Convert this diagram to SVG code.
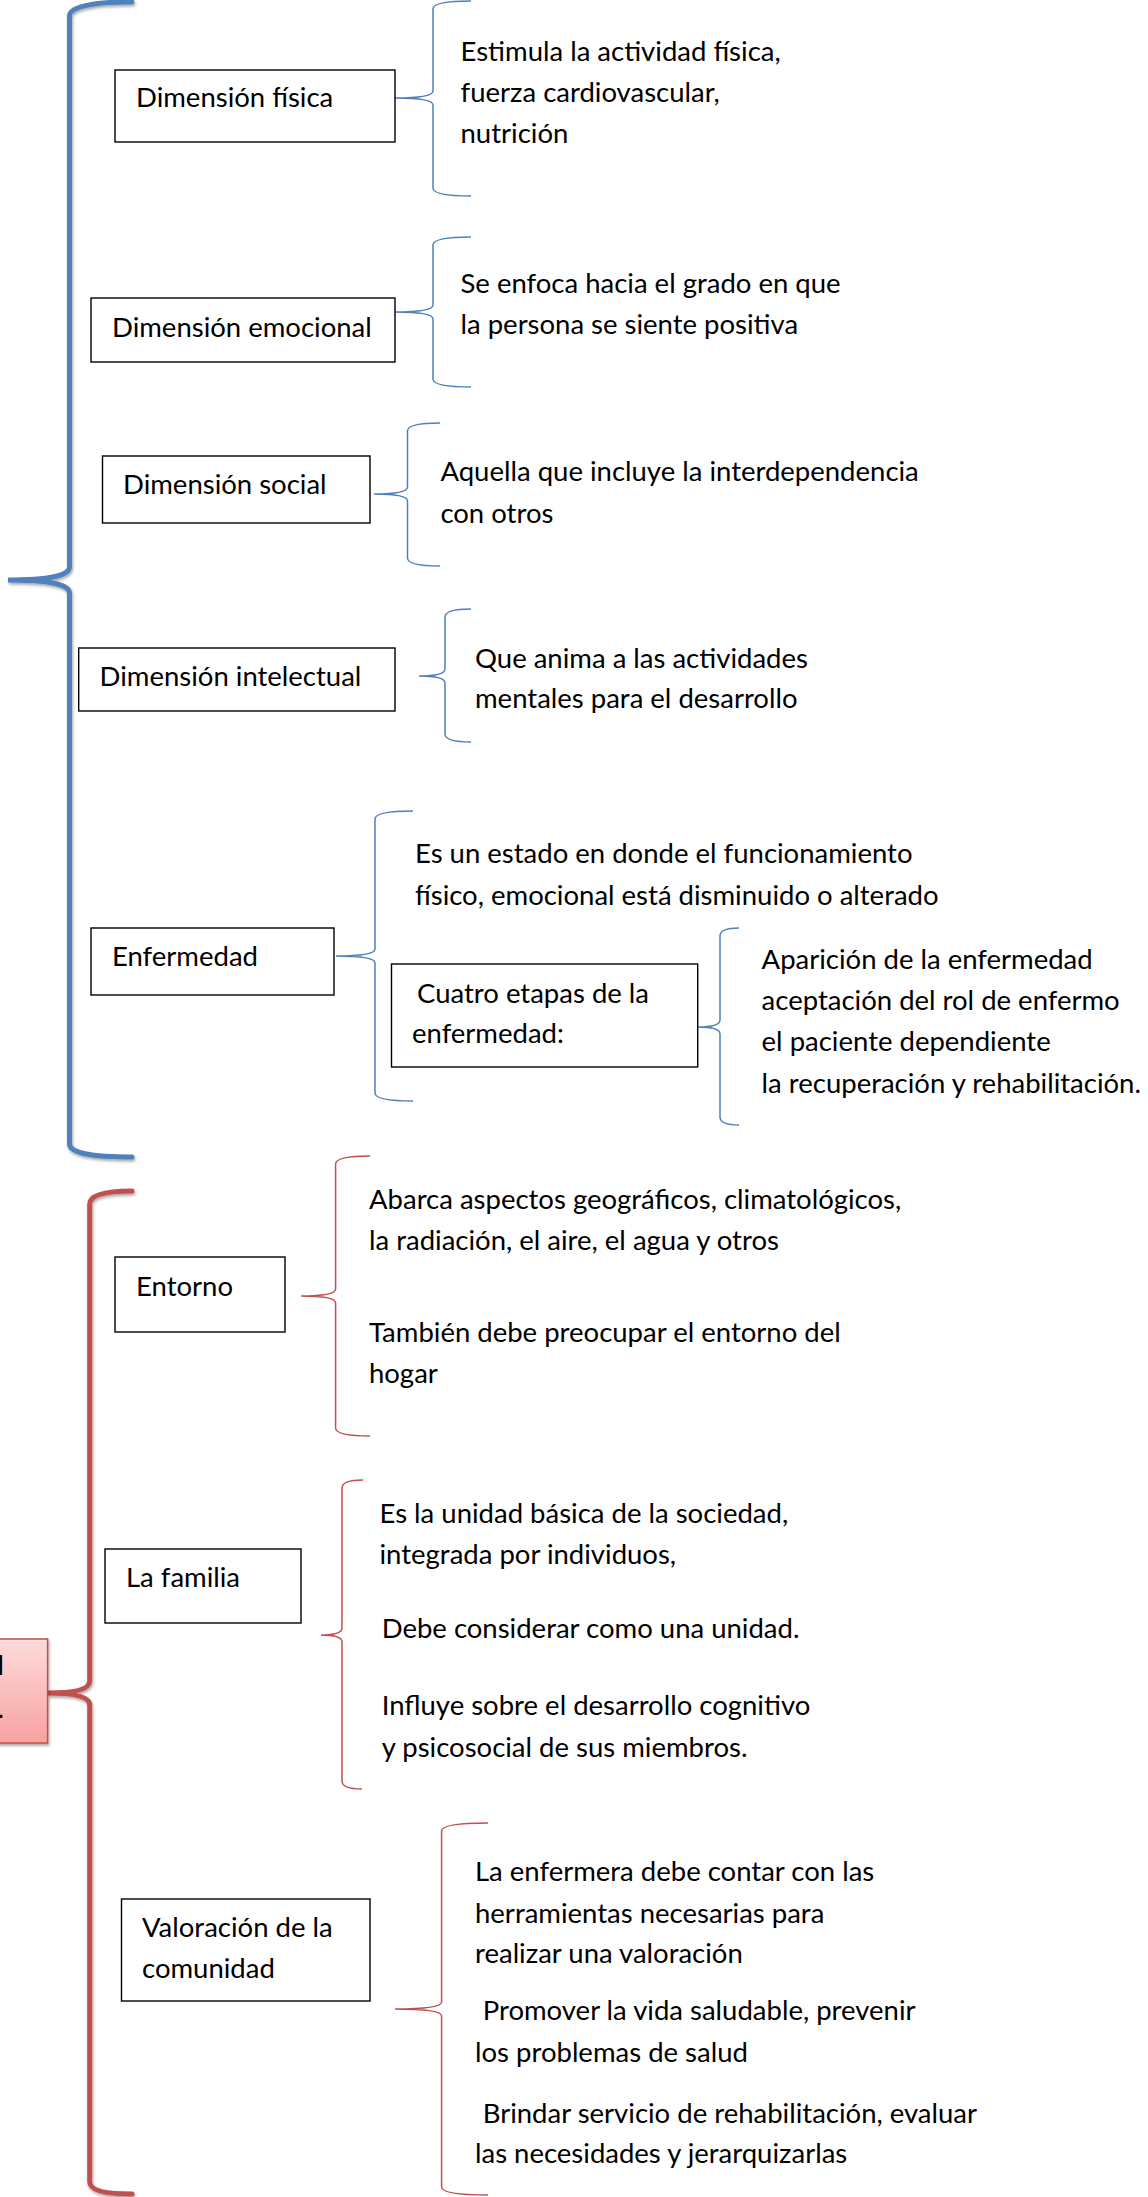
<svg xmlns="http://www.w3.org/2000/svg" width="1148" height="2197" viewBox="0 0 1148 2197">
<style>
.t{font-family:Lato,"Noto Sans","Liberation Sans",sans-serif;font-size:27.5px;fill:#000}
.box{fill:#fff;stroke:#000;stroke-width:1.4}
.bb{fill:none;stroke:#4F81BD;stroke-width:1.5}
.rb{fill:none;stroke:#C0504D;stroke-width:1.5}
.BB{fill:none;stroke:#4F81BD;stroke-width:5;stroke-linecap:round}
.RB{fill:none;stroke:#C0504D;stroke-width:5;stroke-linecap:round}
</style>
<defs>
<filter id="sh" x="-20%" y="-5%" width="140%" height="110%">
<feDropShadow dx="1" dy="2" stdDeviation="1.5" flood-color="#000" flood-opacity="0.35"/>
</filter>
<linearGradient id="pink" x1="0" y1="0" x2="0" y2="1">
<stop offset="0" stop-color="#FCDCDB"/>
<stop offset="1" stop-color="#F7A2A1"/>
</linearGradient>
</defs>
<rect width="1148" height="2197" fill="#fff"/>

<g id="connectors">
<path class="BB" filter="url(#sh)" d="M132,2 Q69.5,2 69.5,16 L69.5,567 Q69.5,580 8,580 Q69.5,580 69.5,593 L69.5,1144 Q69.5,1157 132,1157"/>
<path class="RB" filter="url(#sh)" d="M132,1191 Q89.7,1191 89.7,1204 L89.7,1681 Q89.7,1693 48,1693 Q89.7,1693 89.7,1705 L89.7,2182 Q89.7,2194 132,2194"/>
<path class="bb" d="M471,1 Q433,1 433,9 L433,91 Q433,98 395,98 Q433,98 433,105 L433,188 Q433,196 471,196"/>
<path class="bb" d="M471,237 Q433,237 433,245 L433,305 Q433,312 395,312 Q433,312 433,319 L433,379 Q433,387 471,387"/>
<path class="bb" d="M440,423 Q407.5,423 407.5,431 L407.5,487 Q407.5,494 374,494 Q407.5,494 407.5,501 L407.5,558 Q407.5,566 440,566"/>
<path class="bb" d="M471,609 Q445,609 445,617 L445,669 Q445,676 419,676 Q445,676 445,683 L445,734 Q445,742 471,742"/>
<path class="bb" d="M413,811 Q375,811 375,819 L375,949 Q375,956 336,956 Q375,956 375,963 L375,1093 Q375,1101 413,1101"/>
<path class="bb" d="M739,928 Q720,928 720,936 L720,1020 Q720,1027 698,1027 Q720,1027 720,1034 L720,1117 Q720,1125 739,1125"/>
<path class="rb" d="M370,1156 Q335.6,1156 335.6,1164 L335.6,1289 Q335.6,1296 301,1296 Q335.6,1296 335.6,1303 L335.6,1428 Q335.6,1436 370,1436"/>
<path class="rb" d="M363,1480 Q342,1480 342,1488 L342,1628 Q342,1635 321,1635 Q342,1635 342,1642 L342,1781 Q342,1789 362,1789"/>
<path class="rb" d="M488,1823 Q441.6,1823 441.6,1831 L441.6,2002 Q441.6,2009 395,2009 Q441.6,2009 441.6,2016 L441.6,2187 Q441.6,2195 488,2195"/>
</g>

<g id="n-root">
<rect x="-10" y="1639" width="57.6" height="104" fill="url(#pink)" stroke="#C0504D" stroke-width="1.5" filter="url(#sh)"/>
<text class="t" x="4" y="1675" text-anchor="end">l</text>
<text class="t" x="4" y="1718" text-anchor="end">.</text>
</g>

<g id="n-fisica">
<rect class="box" x="115" y="70" width="280" height="72"/>
<text class="t" x="136" y="107">Dimensión física</text>
</g>
<g id="d-fisica">
<text class="t" x="460.5" y="61">Estimula la actividad física,</text>
<text class="t" x="460.5" y="102">fuerza cardiovascular,</text>
<text class="t" x="460.5" y="143">nutrición</text>
</g>

<g id="n-emocional">
<rect class="box" x="91" y="298" width="304" height="64"/>
<text class="t" x="112" y="337">Dimensión emocional</text>
</g>
<g id="d-emocional">
<text class="t" x="460.5" y="293">Se enfoca hacia el grado en que</text>
<text class="t" x="460.5" y="334">la persona se siente positiva</text>
</g>

<g id="n-social">
<rect class="box" x="102.5" y="456" width="267.5" height="67"/>
<text class="t" x="123" y="494">Dimensión social</text>
</g>
<g id="d-social">
<text class="t" x="440.4" y="481">Aquella que incluye la interdependencia</text>
<text class="t" x="440.4" y="523">con otros</text>
</g>

<g id="n-intelectual">
<rect class="box" x="78.7" y="648" width="316.3" height="63"/>
<text class="t" x="99.6" y="686">Dimensión intelectual</text>
</g>
<g id="d-intelectual">
<text class="t" x="475" y="668">Que anima a las actividades</text>
<text class="t" x="475" y="708">mentales para el desarrollo</text>
</g>

<g id="n-enfermedad">
<rect class="box" x="91" y="928" width="243" height="67"/>
<text class="t" x="112" y="966">Enfermedad</text>
</g>
<g id="d-enfermedad">
<text class="t" x="415" y="863">Es un estado en donde el funcionamiento</text>
<text class="t" x="415" y="905">físico, emocional está disminuido o alterado</text>
</g>

<g id="n-etapas">
<rect class="box" x="391.5" y="964" width="306.2" height="103"/>
<text class="t" x="417" y="1003">Cuatro etapas de la</text>
<text class="t" x="412" y="1043">enfermedad:</text>
</g>
<g id="d-etapas">
<text class="t" x="761.6" y="969">Aparición de la enfermedad</text>
<text class="t" x="761.6" y="1010">aceptación del rol de enfermo</text>
<text class="t" x="761.6" y="1051">el paciente dependiente</text>
<text class="t" x="761.6" y="1093">la recuperación y rehabilitación.</text>
</g>

<g id="n-entorno">
<rect class="box" x="115" y="1257" width="170" height="75"/>
<text class="t" x="136" y="1296">Entorno</text>
</g>
<g id="d-entorno">
<text class="t" x="369" y="1209">Abarca aspectos geográficos, climatológicos,</text>
<text class="t" x="369" y="1250">la radiación, el aire, el agua y otros</text>
<text class="t" x="369" y="1342">También debe preocupar el entorno del</text>
<text class="t" x="369" y="1383">hogar</text>
</g>

<g id="n-familia">
<rect class="box" x="105" y="1549" width="196" height="74"/>
<text class="t" x="126" y="1587">La familia</text>
</g>
<g id="d-familia">
<text class="t" x="379.5" y="1523">Es la unidad básica de la sociedad,</text>
<text class="t" x="379.5" y="1564">integrada por individuos,</text>
<text class="t" x="381.7" y="1638">Debe considerar como una unidad.</text>
<text class="t" x="381.7" y="1715">Influye sobre el desarrollo cognitivo</text>
<text class="t" x="381.7" y="1757">y psicosocial de sus miembros.</text>
</g>

<g id="n-comunidad">
<rect class="box" x="121.5" y="1899" width="248.5" height="102"/>
<text class="t" x="142" y="1937">Valoración de la</text>
<text class="t" x="142" y="1978">comunidad</text>
</g>
<g id="d-comunidad">
<text class="t" x="475" y="1881">La enfermera debe contar con las</text>
<text class="t" x="475" y="1923">herramientas necesarias para</text>
<text class="t" x="475" y="1963">realizar una valoración</text>
<text class="t" x="482.7" y="2020">Promover la vida saludable, prevenir</text>
<text class="t" x="475" y="2062">los problemas de salud</text>
<text class="t" x="482.7" y="2123">Brindar servicio de rehabilitación, evaluar</text>
<text class="t" x="475" y="2163">las necesidades y jerarquizarlas</text>
</g>
</svg>
